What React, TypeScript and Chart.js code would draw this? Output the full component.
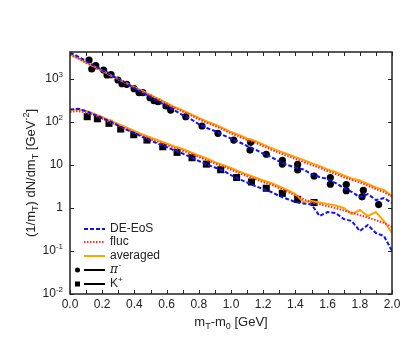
import React, { useEffect, useRef } from "react";
import { Chart, registerables } from "chart.js";

Chart.register(...registerables);

// transverse mass grid of the model curves [GeV]
const mT = [0.0, 0.05, 0.1, 0.15, 0.2, 0.25, 0.3, 0.35, 0.4, 0.45, 0.5, 0.55, 0.6, 0.65, 0.7, 0.75, 0.8, 0.85, 0.9, 0.95, 1.0, 1.05, 1.1, 1.15, 1.2, 1.25, 1.3, 1.35, 1.4, 1.45, 1.5, 1.55, 1.6, 1.65, 1.7, 1.75, 1.8, 1.85, 1.9, 1.95, 2.0];

// pion model curves
const piDE = [4130, 3335, 2620, 2060, 1620, 1271, 1000, 786, 617, 485, 381, 300, 236, 185, 145, 117, 89.8, 72.4, 61.7, 49.8, 41.3, 34.3, 27.7, 22.9, 18.5, 15.3, 12.1, 10.0, 8.75, 7.85, 6.17, 5.26, 4.72, 3.81, 2.92, 2.36, 1.8, 2.11, 1.53, 1.71, 1.31];
const piFluc = [3700, 3030, 2390, 1920, 1550, 1220, 985, 790, 635, 510, 410, 330, 265, 212, 175, 144, 116, 96, 81, 67, 54, 46, 38, 33, 27.5, 22.6, 19.2, 16.3, 13.9, 11.8, 10.0, 8.6, 7.2, 6.2, 5.2, 4.5, 3.95, 3.3, 2.75, 2.35, 1.85];
const piAvg = [3750, 3076, 2420, 1950, 1574, 1238, 1000, 807, 651, 526, 424, 343, 277, 223, 185, 153, 124, 103, 87.5, 72.4, 58.5, 49.8, 41.3, 36.1, 30.0, 24.8, 21.1, 18.0, 15.3, 13.1, 11.1, 9.48, 7.85, 6.87, 5.7, 4.85, 4.36, 3.61, 3.0, 2.62, 1.9];

// kaon model curves
const kDE = [195, 203, 180, 149, 124, 103, 82.8, 66.8, 55.5, 44.8, 37.1, 30.8, 26.2, 21.7, 18.5, 15.3, 12.4, 10.3, 8.75, 7.45, 5.85, 4.72, 3.92, 3.24, 2.77, 2.36, 1.9, 1.62, 1.38, 1.27, 1.21, 0.652, 0.807, 0.766, 0.555, 0.498, 0.292, 0.402, 0.262, 0.223, 0.1];
const kFluc = [172, 180, 165, 143, 120, 99, 83, 69, 57, 47.5, 40, 34, 29, 24.7, 21.5, 18.4, 15.3, 13.0, 10.8, 9.2, 7.8, 6.5, 5.5, 4.7, 4.0, 3.5, 2.9, 2.4, 1.95, 1.6, 1.35, 1.22, 1.1, 1.0, 0.88, 0.78, 0.68, 0.6, 0.52, 0.45, 0.36];
const kAvg = [190, 197, 180, 157, 131, 108, 89.8, 74.5, 61.7, 51.2, 43.6, 37.1, 31.6, 26.9, 23.5, 20.0, 16.6, 14.2, 11.7, 10.0, 8.51, 7.06, 6.01, 5.12, 4.36, 3.81, 3.16, 2.62, 2.11, 1.38, 1.46, 1.34, 1.24, 1.14, 1.0, 0.724, 0.898, 0.652, 0.807, 0.498, 0.262];

// measured pi- points
const piX = [0.118, 0.135, 0.16, 0.209, 0.23, 0.255, 0.298, 0.323, 0.352, 0.398, 0.429, 0.452, 0.497, 0.522, 0.547, 0.596, 0.625, 0.719, 0.82, 0.919, 1.017, 1.122, 1.118, 1.219, 1.319, 1.319, 1.414, 1.414, 1.516, 1.617, 1.617, 1.716, 1.716, 1.822, 1.814, 1.917];
const piY = [2770, 1710, 2040, 1620, 1240, 1260, 948, 778, 754, 595, 480, 480, 367, 313, 297, 236, 190, 133, 80.7, 54.6, 38.1, 33.7, 22.3, 17.8, 12.9, 10.5, 10.3, 7.66, 5.55, 5.12, 3.57, 3.52, 2.52, 2.59, 1.82, 1.2];

// measured K+ points
const kX = [0.107, 0.17, 0.242, 0.315, 0.396, 0.478, 0.576, 0.665, 0.758, 0.847, 0.936, 1.035, 1.127, 1.219, 1.319, 1.414, 1.516];
const kY = [133, 119, 93.3, 68.7, 50.7, 38.1, 26.6, 19.7, 14.8, 10.5, 7.78, 5.12, 4.03, 2.88, 2.2, 1.59, 1.34];

// axis ticks
const xTicks = [0.0, 0.1, 0.2, 0.3, 0.4, 0.5, 0.6, 0.7, 0.8, 0.9, 1.0, 1.1, 1.2, 1.3, 1.4, 1.5, 1.6, 1.7, 1.8, 1.9, 2.0];
const xLabelTicks = [0.0, 0.2, 0.4, 0.6, 0.8, 1.0, 1.2, 1.4, 1.6, 1.8, 2.0];
const xLabels = ["0.0", "0.2", "0.4", "0.6", "0.8", "1.0", "1.2", "1.4", "1.6", "1.8", "2.0"];
const yTicks = [0.01, 0.1, 1, 10, 100, 1000];
const yLabelBase = ["10", "10", "1", "10", "10", "10"];
const yLabelExp = ["-2", "-1", "", "", "2", "3"];

const BLUE = "#1010ff";
const RED = "#ff2a2a";
const ORANGE = "#ffa500";
const FONT = "'Liberation Sans', Arial, Helvetica, sans-serif";

type Part = [string, number]; // 0 normal, 1 sub, 2 sup

function richWidth(ctx: CanvasRenderingContext2D, parts: Part[], size: number) {
  let w = 0;
  for (const [t, k] of parts) {
    ctx.font = `${k === 0 ? size : Math.round(size * 0.7)}px ${FONT}`;
    w += ctx.measureText(t).width;
  }
  return w;
}

function drawRich(ctx: CanvasRenderingContext2D, parts: Part[], x: number, y: number, size: number) {
  let cx = x;
  ctx.textBaseline = "middle";
  ctx.textAlign = "left";
  for (const [t, k] of parts) {
    const s = k === 0 ? size : Math.round(size * 0.7);
    ctx.font = `${s}px ${FONT}`;
    const dy = k === 1 ? size * 0.32 : k === 2 ? -size * 0.38 : 0;
    ctx.fillText(t, cx, y + dy);
    cx += ctx.measureText(t).width;
  }
}

const decoPlugin = {
  id: "deco",
  afterDatasetsDraw(chart: any) {
    const { ctx, chartArea } = chart;
    const { left, right, top, bottom } = chartArea;
    const xs = chart.scales.x;
    const ys = chart.scales.y;
    ctx.save();
    ctx.strokeStyle = "#222";
    ctx.lineWidth = 1.5;
    ctx.strokeRect(left, top, right - left, bottom - top);
    ctx.lineWidth = 1;
    ctx.beginPath();
    for (const v of xTicks) {
      const px = Math.round(xs.getPixelForValue(v)) + 0.5;
      ctx.moveTo(px, bottom);
      ctx.lineTo(px, bottom - 4);
      ctx.moveTo(px, top);
      ctx.lineTo(px, top + 4);
    }
    for (const v of yTicks) {
      const py = Math.round(ys.getPixelForValue(v)) + 0.5;
      ctx.moveTo(left, py);
      ctx.lineTo(left + 4, py);
      ctx.moveTo(right, py);
      ctx.lineTo(right - 4, py);
    }
    ctx.stroke();

    ctx.fillStyle = "#222";
    // x tick labels
    ctx.font = `12px ${FONT}`;
    ctx.textAlign = "center";
    ctx.textBaseline = "middle";
    xLabelTicks.forEach((v, i) => {
      ctx.fillText(xLabels[i], xs.getPixelForValue(v), bottom + 11);
    });
    // y tick labels
    yTicks.forEach((v, i) => {
      const parts: Part[] = [[yLabelBase[i], 0]];
      if (yLabelExp[i]) parts.push([yLabelExp[i], 2]);
      const w = richWidth(ctx, parts, 12);
      drawRich(ctx, parts, left - 7 - w, ys.getPixelForValue(v), 12);
    });

    // axis titles
    const xt: Part[] = [["m", 0], ["T", 1], ["-m", 0], ["0", 1], [" [GeV]", 0]];
    const xw = richWidth(ctx, xt, 13);
    drawRich(ctx, xt, (left + right) / 2 - xw / 2, bottom + 28, 13);

    const yt: Part[] = [["(1/m", 0], ["T", 1], [") dN/dm", 0], ["T", 1], [" [GeV", 0], ["-2", 2], ["]", 0]];
    const yw = richWidth(ctx, yt, 13);
    ctx.save();
    ctx.translate(31, (top + bottom) / 2);
    ctx.rotate(-Math.PI / 2);
    drawRich(ctx, yt, -yw / 2, 0, 13);
    ctx.restore();

    // legend
    const lx0 = left + 14;
    const lx1 = left + 35;
    const tx = left + 40;
    const rows = [
      { y: 229, label: "DE-EoS", color: BLUE, dash: [4, 2], w: 2 },
      { y: 242, label: "fluc", color: RED, dash: [1.5, 1.5], w: 2 },
      { y: 256, label: "averaged", color: ORANGE, dash: [], w: 2 },
    ];
    for (const r of rows) {
      ctx.beginPath();
      ctx.setLineDash(r.dash);
      ctx.strokeStyle = r.color;
      ctx.lineWidth = r.w;
      ctx.moveTo(lx0, r.y);
      ctx.lineTo(lx1, r.y);
      ctx.stroke();
      ctx.setLineDash([]);
      ctx.fillStyle = "#222";
      drawRich(ctx, [[r.label, 0]], tx, r.y, 12);
    }
    // pi- and K+ rows
    const sy = [270, 284];
    ctx.strokeStyle = "#000";
    ctx.lineWidth = 2;
    for (const yy of sy) {
      ctx.beginPath();
      ctx.moveTo(lx0, yy);
      ctx.lineTo(lx1, yy);
      ctx.stroke();
    }
    ctx.fillStyle = "#000";
    ctx.beginPath();
    ctx.arc(left + 7.5, sy[0], 2.5, 0, Math.PI * 2);
    ctx.fill();
    ctx.fillRect(left + 5, sy[1] - 2.5, 5, 5);
    ctx.fillStyle = "#222";
    ctx.font = `italic 12px 'DejaVu Serif', serif`;
    ctx.textAlign = "left";
    ctx.textBaseline = "middle";
    ctx.fillText("\u03c0", tx, sy[0]);
    const pw = ctx.measureText("\u03c0").width;
    ctx.font = `8px ${FONT}`;
    ctx.fillText("-", tx + pw + 0.5, sy[0] - 5);
    drawRich(ctx, [["K", 0], ["+", 2]], tx, sy[1], 12);
    ctx.restore();
  },
};

function curve(ys: number[]) {
  return mT.map((x, i) => ({ x, y: ys[i] }));
}
function pts(xs: number[], ys: number[]) {
  return xs.map((x, i) => ({ x, y: ys[i] }));
}

export default function App() {
  const ref = useRef<HTMLCanvasElement | null>(null);
  useEffect(() => {
    if (!ref.current) return;
    const lineDs = (data: number[], color: string, dash: number[], width: number) => ({
      type: "line" as const,
      data: curve(data),
      borderColor: color,
      borderDash: dash,
      borderWidth: width,
      pointRadius: 0,
      fill: false,
      tension: 0,
    });
    const chart = new Chart(ref.current, {
      type: "scatter",
      data: {
        datasets: [
          lineDs(piDE, BLUE, [4, 2], 2),
          lineDs(kDE, BLUE, [4, 2], 2),
          lineDs(piFluc, RED, [1.5, 1.5], 2),
          lineDs(kFluc, RED, [1.5, 1.5], 2),
          lineDs(piAvg, ORANGE, [], 2),
          lineDs(kAvg, ORANGE, [], 2),
          {
            data: pts(piX, piY),
            pointStyle: "circle",
            pointRadius: 3.6,
            backgroundColor: "#000",
            borderColor: "#000",
            borderWidth: 0,
          },
          {
            data: pts(kX, kY),
            pointStyle: "rect",
            pointRadius: 5,
            backgroundColor: "#000",
            borderColor: "#000",
            borderWidth: 0,
          },
        ] as any,
      },
      options: {
        responsive: false,
        animation: false,
        layout: { padding: { left: 70, top: 52, right: 24, bottom: 53 } },
        plugins: { legend: { display: false }, tooltip: { enabled: false } },
        scales: {
          x: { type: "linear", min: 0, max: 2, display: false },
          y: { type: "logarithmic", min: 0.01, max: 4250, display: false },
        },
      },
      plugins: [decoPlugin],
    });
    return () => chart.destroy();
  }, []);
  return (
    <div style={{ position: "fixed", left: 0, top: 0, width: 416, height: 347, background: "#fff" }}>
      <canvas ref={ref} width={416} height={347} style={{ display: "block" }} />
    </div>
  );
}
